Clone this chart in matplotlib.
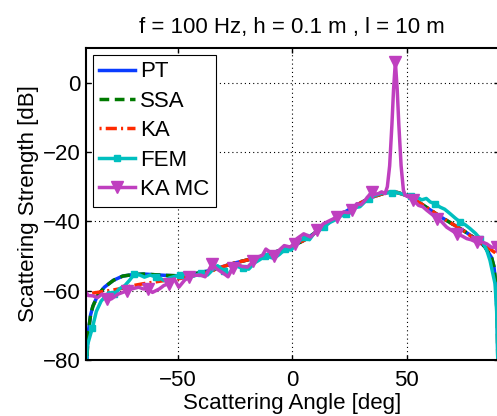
import numpy as np
import matplotlib
matplotlib.use("Agg")
import matplotlib.pyplot as plt

plt.rcParams['font.family'] = ['Liberation Sans', 'DejaVu Sans']
plt.rcParams['lines.scale_dashes'] = False

title = "f = 100 Hz, h = 0.1 m , l = 10 m"
xlabel = "Scattering Angle [deg]"
ylabel = "Scattering Strength [dB]"
labels = ["PT", "SSA", "KA", "FEM", "KA MC"]
xticks = [-50, 0, 50]
yticks = [-80, -60, -40, -20, 0]

# Smooth analytic curves
ang_s = [-90, -89.5, -89, -88, -87, -85, -82, -78, -74, -70, -65, -60, -55, -50,
         -45, -40, -35, -30, -25, -20, -15, -10, -5, 0, 5, 10, 15, 20, 25, 30, 35,
         40, 43, 46, 50, 55, 60, 65, 70, 75, 80, 84, 87, 88, 88.5, 89, 89.5, 90]
pt_db = [-100, -78, -72, -67, -64.5, -61.5, -59, -57, -55.8, -55.4, -55.2, -55.4,
         -55.6, -55.7, -55.4, -54.8, -54, -53, -52, -51.2, -50.4, -49.4, -48.3,
         -47.2, -45.5, -43.3, -40.8, -38.5, -36.5, -34.6, -33, -31.9, -31.5, -31.7,
         -32.6, -34.4, -36.6, -38.8, -40.8, -42.8, -45, -47.3, -50.5, -53, -56,
         -61, -69, -100]
ssa_db = [-100, -78, -72, -67, -64.5, -61.5, -59, -57, -55.8, -55.4, -55.2, -55.4,
          -55.6, -55.7, -55.4, -54.8, -54, -53, -52, -51.2, -50.4, -49.4, -48.3,
          -47.2, -45.5, -43.3, -40.8, -38.5, -36.5, -34.6, -33, -31.9, -31.5, -31.7,
          -32.6, -34.4, -36.6, -38.8, -40.8, -42.8, -45, -47.3, -50.5, -53, -56,
          -61, -69, -100]
ka_db = [-61, -61, -60.9, -60.8, -60.7, -60.5, -60.2, -59.8, -59.3, -58.6, -58,
         -57.5, -57, -56.6, -56, -55.3, -54.3, -53, -52, -51.2, -50.4, -49.4, -48.3,
         -47.2, -45.5, -43.3, -40.8, -38.5, -36.5, -34.6, -33, -31.9, -31.5, -31.7,
         -32.6, -34.4, -36.6, -38.8, -40.8, -42.8, -45.3, -47, -48.3, -48.8, -49,
         -49.3, -49.6, -50]

# FEM (noisy)
ang_fem = [-90, -89.5, -87.2, -85.5, -83.4, -80, -77.6, -75.5, -73, -71, -68.9,
           -66.5, -64.5, -62, -59.4, -57.5, -55.8, -53.5, -51.4, -49, -46, -43, -40,
           -37, -34, -32.6, -30, -28, -26, -24, -21.5, -19, -16.5, -14, -12, -10, -8,
           -5.5, -3, -0.5, 1.5, 3.5, 5.5, 7.5, 9.5, 12, 14, 16.5, 19, 21, 23.5, 25.5,
           27.5, 29.5, 31.5, 33.5, 35.5, 37.5, 39.5, 41.5, 43.5, 45.5, 47.5, 50, 52,
           54.3, 56.5, 58.5, 60.2, 62.5, 64.5, 66.5, 68.9, 71, 73.2, 75.5, 77.6, 80,
           82, 83.5, 84.9, 86.3, 87.5, 88.5, 89.2, 89.7, 90]
fem_db = [-85, -76, -70.7, -66, -63, -60.5, -61, -59.5, -58.5, -57, -55.2, -55.5,
          -56.1, -55.5, -56.1, -56.5, -57.1, -56.3, -55.9, -55.5, -55.2, -55.8, -55,
          -55.5, -53.5, -52.8, -54.2, -55.5, -53.5, -53, -53.6, -53.8, -52, -51, -50,
          -50.3, -50.7, -49.5, -48, -48.3, -46.8, -45.5, -44.5, -45.3, -43.5, -42.5,
          -41.5, -40.3, -39.5, -38.5, -38, -37.5, -36, -35.8, -34.5, -33.5, -32.7,
          -32.2, -31.8, -31.8, -31.7, -31.7, -32, -32.5, -32.8, -33, -33.8, -33.4,
          -34.4, -35, -35.9, -36.5, -37.8, -39, -40.2, -41, -42.1, -43.5, -45, -46.5,
          -48.4, -51.3, -55, -58, -66, -80, -90]
fem_marker_angles = [-87.2, -77.6, -68.9, -59.4, -49, -40, -30, -21.5, -12, -3, 5.5,
                     14, 23.5, 33.5, 43.5, 52, 62.5, 73.2, 82]

# KA Monte Carlo (noisy)
ang_mc = [-90, -89, -87, -85, -83, -81, -79, -76, -74, -72, -70, -67, -65, -63, -61,
          -58, -56, -54, -51.5, -49.5, -47, -45, -43, -40, -38, -35, -33, -30, -28,
          -26, -24, -22, -19.5, -17, -15, -13, -11.5, -9.5, -8, -6, -3.5, -1, 1, 2, 5,
          8, 11, 13.6, 16.6, 19.5, 22.4, 24.5, 26, 28.2, 30, 31.8, 34.7, 36, 37.6, 39,
          40.5, 41.5, 42.5, 43.5, 44.2, 45, 45.8, 46.5, 47.5, 48.5, 49.3, 51, 52.9,
          55.1, 57, 58.7, 61, 63.1, 65, 67.4, 70, 71.8, 74, 76.2, 78, 80.5, 83, 84.9,
          87, 89.2, 90]
mc_db = [-60.5, -61.4, -61.5, -62, -61, -62.5, -62.4, -61, -60.5, -60, -59.5, -59,
         -59.5, -59.5, -60.5, -59.5, -58.5, -58, -56.6, -59, -57, -56, -55.6, -55.5,
         -56, -52.3, -53.7, -55, -56, -53.5, -52.3, -53, -53.2, -51.5, -50.3, -49.8,
         -48, -49, -49.9, -48.5, -47, -47.4, -46.5, -45, -43.6, -44.5, -42.6, -40.7,
         -39.7, -38.8, -37.3, -37.5, -36.8, -34.9, -35.2, -33.9, -31.5, -32.2, -32,
         -31.5, -32, -30, -24, -12, -2, 6, -2, -12, -24, -31, -32.5, -33, -33.9, -35.4,
         -35.8, -36.8, -38, -39.2, -40, -41.7, -42.8, -43.6, -44.2, -45, -45.3, -46,
         -46, -46.5, -47.5, -47.4, -48.5]
mc_marker_angles = [-81, -72, -63, -54, -45, -35, -26, -17, -8, 1, 11, 19.5, 26, 34.7,
                    45, 52.9, 63.1, 71.8, 80.5, 89.2]


def nearest_idx(xs, targets):
    xs = np.asarray(xs)
    return sorted({int(np.argmin(np.abs(xs - t))) for t in targets})


fs = 16
fig = plt.figure(figsize=(4.97, 4.16), dpi=100)
ax = fig.add_axes([86 / 497, 56 / 416, 412.5 / 497, 312 / 416])

lw = 2.5
ax.plot(ang_s, pt_db, color='#0a3cff', lw=lw, label=labels[0])
ax.plot(ang_s, ssa_db, color='#007a00', lw=lw, dashes=(7, 4), label=labels[1])
ax.plot(ang_s, ka_db, color='#ff2a00', lw=lw, dashes=(1.5, 3, 8, 3), label=labels[2])
ax.plot(ang_fem, fem_db, color='#00bfbf', lw=lw, marker='s', markersize=5,
        markevery=nearest_idx(ang_fem, fem_marker_angles), label=labels[3])
ax.plot(ang_mc, mc_db, color='#bf3fbf', lw=lw, marker='v', markersize=8,
        markevery=nearest_idx(ang_mc, mc_marker_angles), label=labels[4])

ax.set_xlim(-90, 90)
ax.set_ylim(-80, 10)
ax.set_xticks(xticks)
ax.set_yticks(yticks)
ax.tick_params(direction='in', length=3.5, width=1, top=True, right=True,
               labelsize=fs, colors='black')
ax.tick_params(axis='x', pad=7)
ax.tick_params(axis='y', pad=4)
ax.grid(True, color='black', lw=0.8, linestyle=(0, (0.8, 2.2)))
for sp in ax.spines.values():
    sp.set_linewidth(1.5)
    sp.set_color('black')

ax.set_title(title, fontsize=fs, pad=11)
ax.set_xlabel(xlabel, fontsize=fs, labelpad=1.5)
ax.set_ylabel(ylabel, fontsize=fs, labelpad=3)

leg = ax.legend(loc='upper left', fontsize=fs, borderaxespad=0.3, borderpad=0.3,
                handlelength=1.6, handletextpad=0.25, labelspacing=0.38,
                fancybox=False, framealpha=1, edgecolor='black')
leg.get_frame().set_linewidth(0.8)

fig.savefig('out.png', dpi=100)
